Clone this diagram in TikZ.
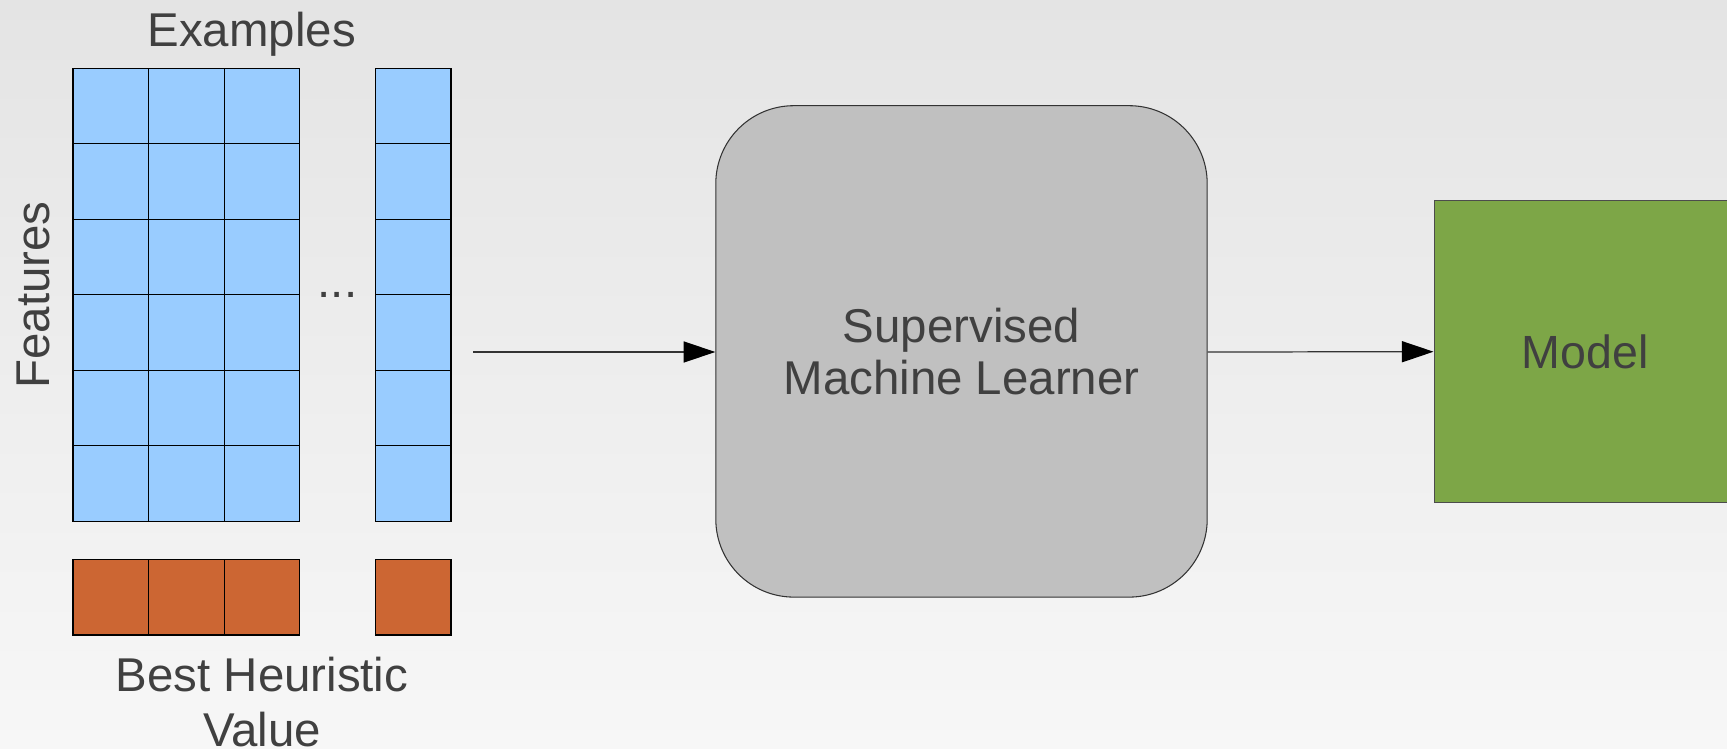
\documentclass[tikz,border=0pt]{standalone}
\usepackage{fontspec}
\setmainfont{Liberation Sans}
\usetikzlibrary{arrows.meta}

\definecolor{bgtop}{HTML}{E4E4E4}
\definecolor{bgbottom}{HTML}{F7F7F7}
\definecolor{cellblue}{HTML}{99CCFF}
\definecolor{cellorange}{HTML}{CC6633}
\definecolor{learnergray}{HTML}{C0C0C0}
\definecolor{modelgreen}{HTML}{7DA647}
\definecolor{textgray}{HTML}{404040}

\begin{document}
\begin{tikzpicture}[x=0.02cm, y=-0.02cm, >={Triangle[length=18pt,width=12pt,color=black]},
	cell/.style={draw=black, line width=0.6pt},
	axistext/.style={text=textgray, font=\fontsize{27}{31}\selectfont},
	flow/.style={->, draw=black!80, line width=0.7pt},
	learnerbox/.style={draw=black!80, line width=0.6pt, fill=learnergray, rounded corners=1.56cm,
		minimum width=9.83cm, minimum height=9.83cm, align=center, text=textgray,
		font=\fontsize{27}{29.4}\selectfont},
	modelbox/.style={draw=black!70, line width=0.6pt, fill=modelgreen, minimum size=6.04cm,
		text=textgray, font=\fontsize{26.5}{30}\selectfont}]
	
	\useasboundingbox (0,0) rectangle (1727,749);
	\shade[top color=bgtop, bottom color=bgbottom] (0,0) rectangle (1727,749);
	
	
	% feature matrix, last column set apart
	\foreach \c in {0,1,2,4}
	\foreach \r in {0,...,5}
	\draw[cell, fill=cellblue] (73+\c*75.6,68.3+\r*75.5) rectangle +(75.6,75.5);
	
	% best heuristic value per example
	\foreach \c in {0,1,2,4}
	\draw[cell, fill=cellorange] (73+\c*75.6,559.3) rectangle +(75.6,75.7);
	
	\node[axistext, anchor=base] (examples) at (251.7,46.7) {Examples};
	\node[axistext, anchor=base, rotate=90] (features) at (50,295) {Features};
	\node[axistext, anchor=base] (dots) at (337.5,298) {...};
	\node[axistext, anchor=base, align=center] (best) at (262,746) {Best Heuristic\\Value};
	
	
	\node[learnerbox] (learner) at (961.5,351.4) {Supervised\\Machine Learner};
	\node[modelbox] (model) at (1585,351.7) {Model};
	
	\coordinate (src) at (473,352);
	\draw[flow] (src) -- (src -| learner.west);
	\draw[flow] (learner.east |- src) -- (model.west);
\end{tikzpicture}
\end{document}
